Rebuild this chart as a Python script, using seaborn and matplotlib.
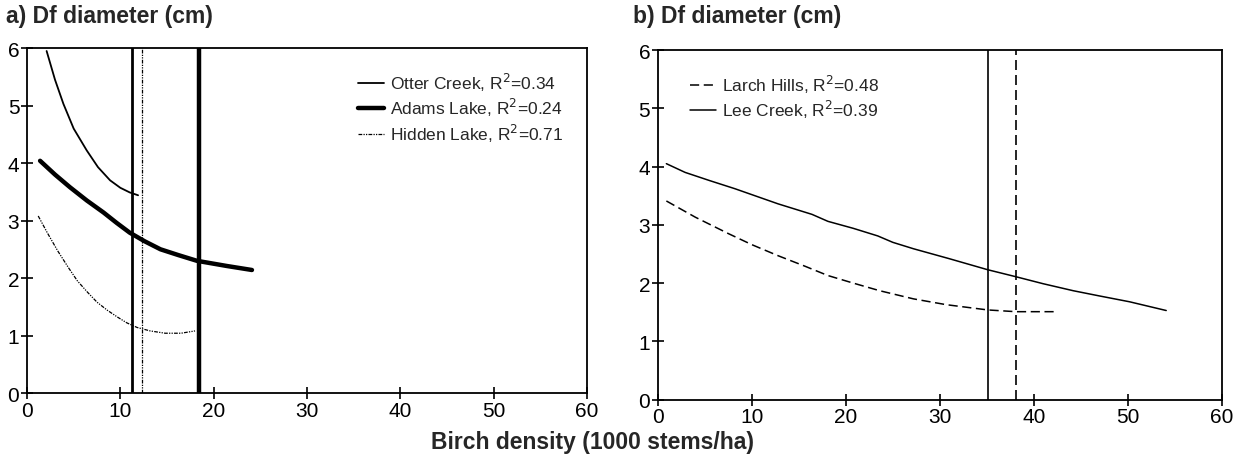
import numpy as np
import pandas as pd
import matplotlib
matplotlib.use("Agg")
import matplotlib.pyplot as plt
import seaborn as sns

# ---- data ----
otter_x = [2.1, 3.0, 3.9, 5.0, 6.4, 7.6, 8.9, 10.0, 11.0, 11.9]
otter_y = [5.95, 5.45, 5.03, 4.6, 4.22, 3.93, 3.70, 3.57, 3.49, 3.44]
adams_x = [1.4, 3.0, 4.6, 6.4, 8.2, 9.6, 11.0, 12.6, 14.3, 16.2, 18.2, 21.4, 24.1]
adams_y = [4.04, 3.80, 3.58, 3.35, 3.14, 2.96, 2.79, 2.64, 2.50, 2.40, 2.30, 2.21, 2.14]
hidden_x = [1.2, 2.2, 3.3, 4.4, 5.4, 6.5, 7.5, 8.6, 9.7, 10.7, 11.8, 13.2, 14.8, 16.5, 18.0]
hidden_y = [3.08, 2.78, 2.47, 2.19, 1.95, 1.75, 1.58, 1.44, 1.32, 1.22, 1.14, 1.08, 1.04, 1.04, 1.08]
vlines_a = [11.3, 12.3, 18.4]

lee_x = [0.9, 2.9, 5.5, 8.2, 10.5, 12.8, 16.4, 18.1, 20.8, 23.4, 25.0, 27.2, 31.0,
         35.1, 38.1, 41.0, 44.2, 47.0, 50.2, 54.1]
lee_y = [4.05, 3.90, 3.76, 3.62, 3.49, 3.36, 3.18, 3.06, 2.94, 2.81, 2.70, 2.59, 2.42,
         2.23, 2.11, 1.99, 1.87, 1.78, 1.68, 1.53]
larch_x = [0.9, 4.0, 7.5, 10.0, 12.8, 15.5, 18.1, 20.8, 23.6, 27.2, 30.7, 35.1, 38.1, 42.2]
larch_y = [3.41, 3.13, 2.85, 2.66, 2.47, 2.30, 2.13, 2.00, 1.87, 1.73, 1.63, 1.54, 1.51, 1.51]
vlines_b = [35.1, 38.1]

labels_a = ["Otter Creek, R$^2$=0.34", "Adams Lake, R$^2$=0.24", "Hidden Lake, R$^2$=0.71"]
labels_b = ["Larch Hills, R$^2$=0.48", "Lee Creek, R$^2$=0.39"]
xticks = [0, 10, 20, 30, 40, 50, 60]
yticks = [0, 1, 2, 3, 4, 5, 6]

sns.set_style("white")
plt.rcParams['font.family'] = ['Liberation Sans', 'DejaVu Sans']

fig = plt.figure(figsize=(12.39, 4.77), dpi=100)
axa = fig.add_axes([0.0218, 0.174, 0.452, 0.723])
axb = fig.add_axes([0.531, 0.160, 0.455, 0.733])

k = 'black'
dashdot = (0, (3, 1, 1, 1, 1, 1))
sns.lineplot(x=otter_x, y=otter_y, ax=axa, color=k, lw=1.3, label=labels_a[0])
sns.lineplot(x=adams_x, y=adams_y, ax=axa, color=k, lw=3.2, label=labels_a[1])
sns.lineplot(x=hidden_x, y=hidden_y, ax=axa, color=k, lw=0.9,
             linestyle=dashdot, label=labels_a[2])
axa.axvline(vlines_a[0], color=k, lw=2.0)
axa.axvline(vlines_a[1], color=k, lw=0.9, linestyle=dashdot)
axa.axvline(vlines_a[2], color=k, lw=3.2)

sns.lineplot(x=larch_x, y=larch_y, ax=axb, color=k, lw=1.1,
             linestyle=(0, (6, 3)), label=labels_b[0])
sns.lineplot(x=lee_x, y=lee_y, ax=axb, color=k, lw=1.1, label=labels_b[1])
axb.axvline(vlines_b[0], color=k, lw=1.2)
axb.axvline(vlines_b[1], color=k, lw=1.2, linestyle=(0, (6, 3)))

for ax in (axa, axb):
    ax.set_xlim(0, 60)
    ax.set_ylim(0, 6)
    ax.set_xticks(xticks)
    ax.set_yticks(yticks)
    ax.tick_params(bottom=True, left=True, direction='inout', length=9, width=1.2,
                   labelsize=15, pad=1, colors=k)
    for s in ax.spines.values():
        s.set_color(k)
        s.set_linewidth(1.3)
    ax.set_xlabel("")
    ax.set_ylabel("")

axa.legend(loc='upper right', frameon=False, fontsize=12.5, handlelength=1.5,
           handletextpad=0.3, labelspacing=0.2, bbox_to_anchor=(0.985, 0.98))
axb.legend(loc='upper left', frameon=False, fontsize=12.5, handlelength=1.5,
           handletextpad=0.3, labelspacing=0.2, bbox_to_anchor=(0.03, 0.98))

fig.text(0.005, 0.965, "a) Df diameter (cm)", fontsize=16.5, fontweight='bold', va='center')
fig.text(0.511, 0.965, "b) Df diameter (cm)", fontsize=16.5, fontweight='bold', va='center')
fig.text(0.478, 0.073, "Birch density (1000 stems/ha)", fontsize=16.5, fontweight='bold',
         ha='center', va='center')

fig.savefig("out.png", dpi=100)
